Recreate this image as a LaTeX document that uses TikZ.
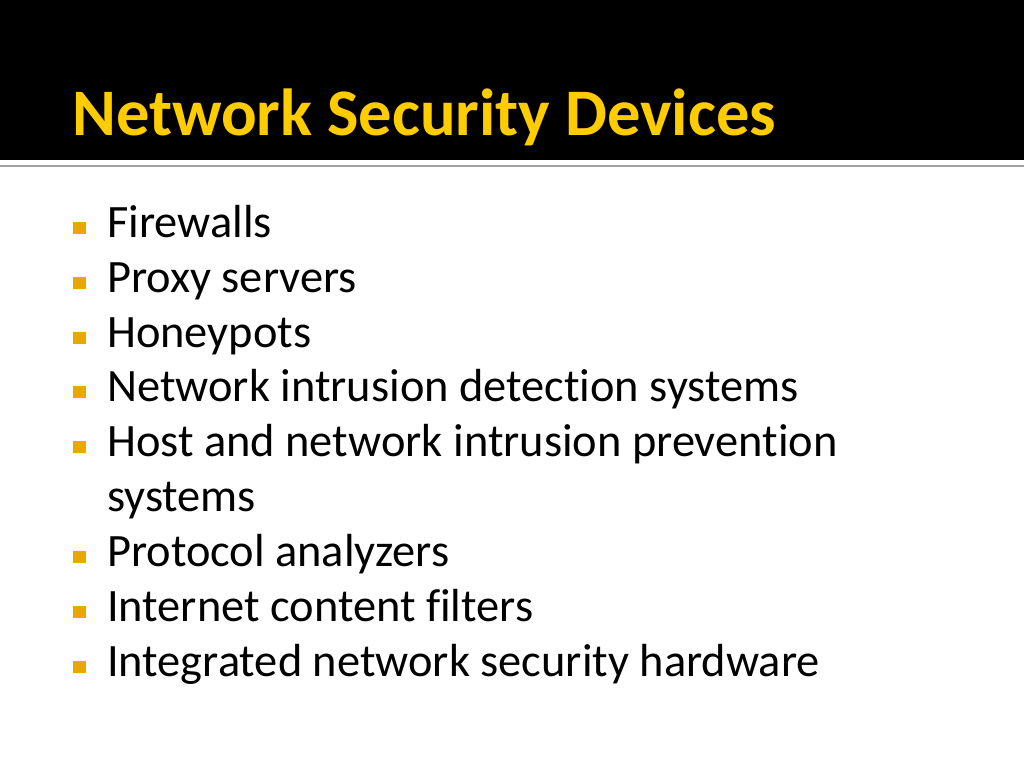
\documentclass[tikz,border=0pt]{standalone}
\usepackage{fontspec}
\setmainfont[Ligatures=NoCommon]{Carlito}
\definecolor{titleyellow}{RGB}{255,204,0}
\definecolor{bulletgold}{RGB}{232,168,0}
\definecolor{rulegrey}{RGB}{160,160,160}
\tikzset{
  slidetitle/.style={anchor=base west,inner sep=0pt,text=titleyellow,font=\fontsize{66.5}{74}\selectfont\bfseries},
  itemtext/.style={anchor=base west,inner sep=0pt,font=\fontsize{46.4}{54}\selectfont},
  bulletsq/.style={fill=bulletgold,minimum size=12.5pt,inner sep=0pt}
}

\begin{document}
\begin{tikzpicture}[x=1pt,y=-1pt]

    \useasboundingbox (0,0) rectangle (1024,768);
    \fill[white] (0,0) rectangle (1024,768);
    \fill[black] (0,0) rectangle (1024,160);
    \fill[rulegrey] (0,165) rectangle (1024,167);

    \node[slidetitle] (title) at (72,135) {Network Security Devices};

    \foreach \n/\y/\t in {1/237/Firewalls, 2/292/Proxy servers, 3/347/Honeypots,
        4/401/Network intrusion detection systems,
        5/456/Host and network intrusion prevention,
        7/566/Protocol analyzers, 8/621/Internet content filters,
        9/676/Integrated network security hardware}{
        \node[bulletsq] (b\n) at (79.5,\y-9) {};
        \node[itemtext] (i\n) at (107,\y) {\t};
    }
    \node[itemtext] (i6) at (107,511) {systems};

\end{tikzpicture}
\end{document}
